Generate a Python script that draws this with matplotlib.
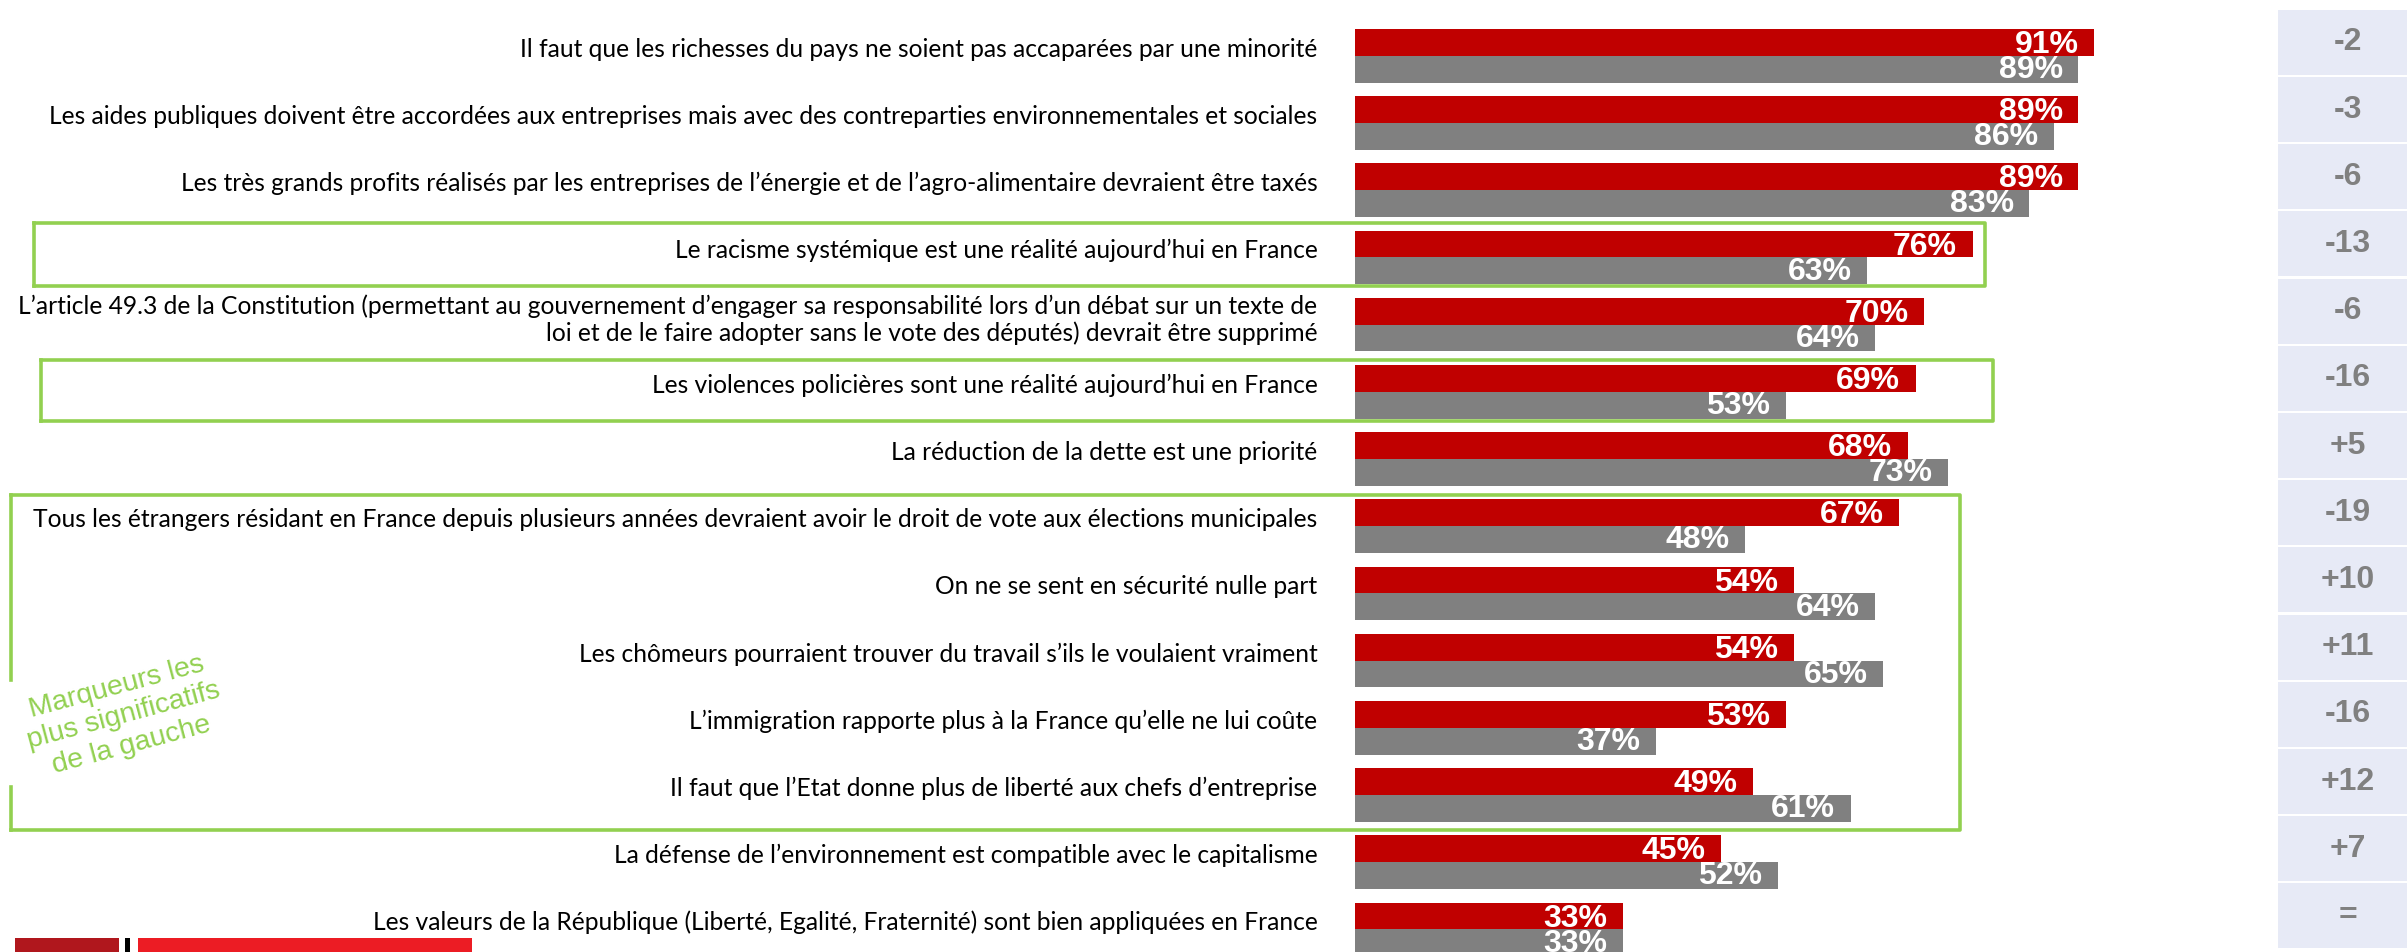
#!/usr/bin/env python3

import matplotlib
matplotlib.use("Agg")
import matplotlib.pyplot as plt
from matplotlib.patches import Rectangle
from matplotlib.transforms import blended_transform_factory

# Data
LABELS = [
    "Il faut que les richesses du pays ne soient pas accaparées par une minorité",
    "Les aides publiques doivent être accordées aux entreprises mais avec des contreparties environnementales et sociales",
    "Les très grands profits réalisés par les entreprises de l’énergie et de l’agro-alimentaire devraient être taxés",
    "Le racisme systémique est une réalité aujourd’hui en France",
    "L’article 49.3 de la Constitution (permettant au gouvernement d’engager sa responsabilité lors d’un débat sur un texte de\n"
    "loi et de le faire adopter sans le vote des députés) devrait être supprimé",
    "Les violences policières sont une réalité aujourd’hui en France",
    "La réduction de la dette est une priorité",
    "Tous les étrangers résidant en France depuis plusieurs années devraient avoir le droit de vote aux élections municipales",
    "On ne se sent en sécurité nulle part",
    "Les chômeurs pourraient trouver du travail s’ils le voulaient vraiment",
    "L’immigration rapporte plus à la France qu’elle ne lui coûte",
    "Il faut que l’Etat donne plus de liberté aux chefs d’entreprise",
    "La défense de l’environnement est compatible avec le capitalisme",
    "Les valeurs de la République (Liberté, Egalité, Fraternité) sont bien appliquées en France",
]
LEFT_VALUES = [91, 89, 89, 76, 70, 69, 68, 67, 54, 54, 53, 49, 45, 33]
ALL_VALUES = [89, 86, 83, 63, 64, 53, 73, 48, 64, 65, 37, 61, 52, 33]
DIFFS = ["-2", "-3", "-6", "-13", "-6", "-16", "+5", "-19", "+10", "+11", "-16", "+12", "+7", "="]

# rows framed in green (first, last)
HIGHLIGHTS = [(3, 3), (5, 5), (7, 11)]
NOTE = "Marqueurs les\nplus significatifs\nde la gauche"

RED = "#C00000"
GREY = "#808080"
GREEN = "#92D050"
BOX = "#E7EAF6"

W, H = 2407, 952
fig = plt.figure(figsize=(W / 100, H / 100), dpi=100)

# main bar axes, 0..100 % mapped onto the bar area
ax = fig.add_axes([1355 / W, 0, 812.5 / W, 1])
ax.set_xlim(0, 100)
ax.set_ylim(13.336, -0.830)
for s in ax.spines.values():
    s.set_visible(False)
ax.set_xticks([])

n = len(LABELS)
rows = list(range(n))
bh = 0.4
ax.barh([r - bh / 2 for r in rows], LEFT_VALUES, height=bh, color=RED)
ax.barh([r + bh / 2 for r in rows], ALL_VALUES, height=bh, color=GREY)

for r, v in zip(rows, LEFT_VALUES):
    ax.text(v - 1.9, r - bh / 2 + 0.04, f"{v}%", ha="right", va="center",
            color="white", fontsize=23, fontweight="bold", family="Liberation Sans")
for r, v in zip(rows, ALL_VALUES):
    ax.text(v - 1.9, r + bh / 2 + 0.01, f"{v}%", ha="right", va="center",
            color="white", fontsize=23, fontweight="bold", family="Liberation Sans",
            clip_on=True)

ax.set_yticks([r - 0.13 for r in rows])
ax.set_yticklabels(LABELS, fontsize=17.7, family="Lato", linespacing=1.2,
                   multialignment="right")
ax.tick_params(axis="y", length=0, pad=27)

# right column with the differences
ax2 = fig.add_axes([2278 / W, 0, 140 / W, 1], sharey=ax)
ax2.set_xlim(0, 1)
ax2.axis("off")
ax2.barh([r - 0.2 for r in rows], 1, height=0.967, color=BOX)
for r, d in zip(rows, DIFFS):
    ax2.text(0.5, r - 0.2, d, ha="center", va="center", color=GREY,
             fontsize=23, fontweight="bold", family="Liberation Sans")

# green frames
tr = blended_transform_factory(fig.transFigure, ax.transData)
frame_x = [(34, 1985), (41, 1993), (11, 1960)]
frame_pad = [(0.11, 0.02), (0.07, 0.03), (0.06, 0.12)]
for (r0, r1), (x0, x1), (pt, pb) in zip(HIGHLIGHTS, frame_x, frame_pad):
    y0 = r0 - bh - pt
    y1 = r1 + bh + pb
    kw = dict(color=GREEN, lw=2.6, transform=tr, clip_on=False,
              solid_capstyle="projecting")
    ax.plot([x0 / W, x1 / W, x1 / W, x0 / W], [y0, y0, y1, y1], **kw)
    if r0 == r1:
        ax.plot([x0 / W, x0 / W], [y0, y1], **kw)
    else:
        # left edge interrupted by the note
        g0 = (680 - 55.8) / 67.2
        g1 = (787 - 55.8) / 67.2
        ax.plot([x0 / W, x0 / W], [y0, g0], **kw)
        ax.plot([x0 / W, x0 / W], [g1, y1], **kw)

fig.text(124 / W, 1 - 716 / H, NOTE, rotation=15, ha="center", va="center",
         multialignment="center", color=GREEN, fontsize=20.5,
         family="Liberation Sans", rotation_mode="anchor", linespacing=1.2)

# logo strip at the bottom left
for x0, x1, c in [(15, 119, "#B0171D"), (125, 130, "black"), (138, 472, "#EC1C24")]:
    fig.add_artist(Rectangle((x0 / W, 0), (x1 - x0) / W, 14 / H,
                             transform=fig.transFigure, color=c, lw=0))

fig.savefig("out.png", dpi=100)
